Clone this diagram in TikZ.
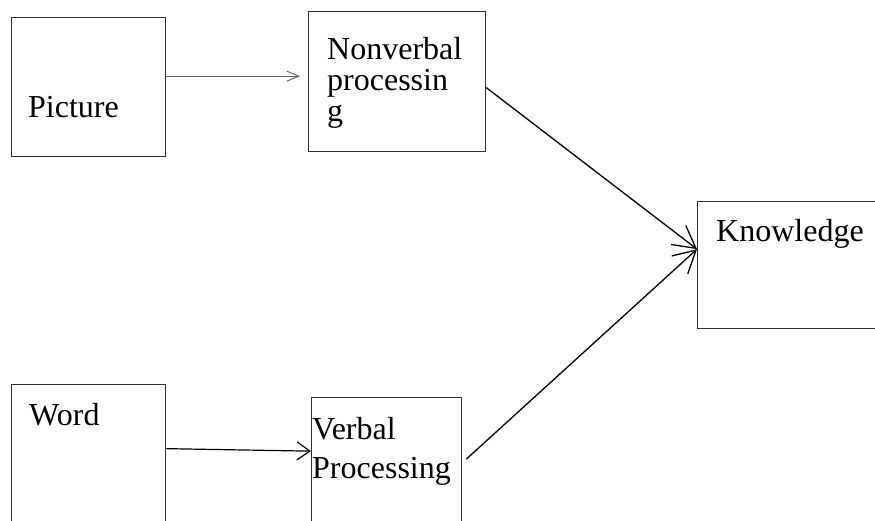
\documentclass[tikz,border=0pt]{standalone}
\usepackage{fontspec}
\setmainfont{Liberation Serif}
\usetikzlibrary{arrows.meta}
\begin{document}
\begin{tikzpicture}[x=1pt, y=-1pt,
  box/.style={draw=black!80, line width=1.3pt, rectangle, anchor=north west, inner sep=0pt},
  lbl/.style={anchor=base west, inner sep=0pt, align=left, font=\fontsize{32}{36}\selectfont},
  link/.style={line width=1.2pt, -{Straight Barb[length=13pt, width=18pt, line width=1.2pt]}},
  big link/.style={line width=1.3pt, -{Straight Barb[length=22pt, width=24pt, line width=1.3pt]}},
  thin link/.style={draw=black!60, line width=0.9pt, -{Straight Barb[length=12pt, width=10pt, line width=0.9pt]}}]
  \clip (0,0) rectangle (875,520);

  % boxes
  \node[box, minimum width=154pt, minimum height=139pt] (pic) at (11,17) {};
  \node[box, minimum width=177pt, minimum height=140pt] (nonv) at (308,11) {};
  \node[box, minimum width=210pt, minimum height=127pt] (know) at (697,201) {};
  \node[box, minimum width=154pt, minimum height=156pt] (word) at (11,384) {};
  \node[box, minimum width=150pt, minimum height=143pt] (verb) at (311,397) {};

  % texts (multi-line ones sit on the baseline of their last line)
  \node[lbl] (picl) at (28,117) {Picture};
  \node[lbl] (nonvl) at (327,121) {Nonverbal\\[-5pt]processin\\[-5pt]g};
  \node[lbl] (knowl) at (716,241) {Knowledge};
  \node[lbl] (wordl) at (29,425) {Word};
  \node[lbl] (verbl) at (312,478) {Verbal\\[3pt]Processing};

  % links
  \draw[thin link] ([yshift=11pt]pic.east) -- ([yshift=11pt, xshift=-8pt]pic.east -| nonv.west);
  \draw[link] ([yshift=14pt]word.east) -- ([yshift=18pt]verb.west);
  \draw[big link] ([yshift=-6pt]nonv.east) -- ([yshift=16pt]know.west);
  \draw[big link] ([xshift=4pt, yshift=10pt]verb.east) -- ([yshift=16pt]know.west);
\end{tikzpicture}
\end{document}
